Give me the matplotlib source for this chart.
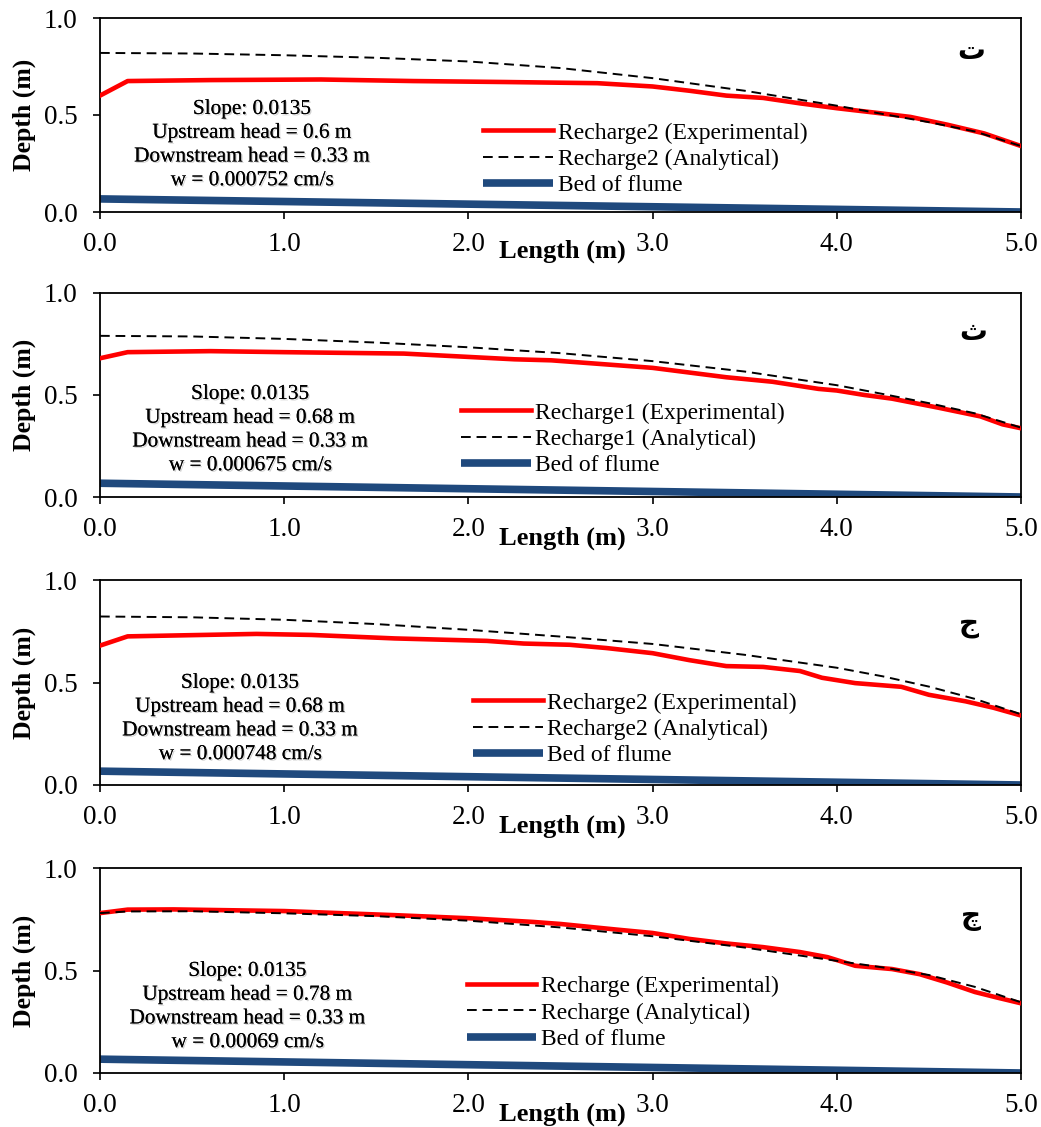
import matplotlib
matplotlib.use('Agg')
import matplotlib.pyplot as plt
import matplotlib.patheffects as pe

plt.rcParams['font.family'] = ['Liberation Serif', 'DejaVu Sans']

# ---- data ----
x_bed = [0.0, 5.0]
y_bed = [0.0675, 0.0]

x_ana = [0, 0.5, 1.0, 1.5, 2.0, 2.5, 3.0, 3.5, 4.0, 4.25, 4.5, 4.75, 5.0]

# panel 1 (Recharge2, upstream 0.6 m)
x1_exp = [0, 0.15, 0.6, 1.2, 1.7, 2.2, 2.7, 3.0, 3.2, 3.4, 3.6, 3.8, 4.0, 4.2, 4.4, 4.6, 4.8, 5.0]
y1_exp = [0.60, 0.675, 0.68, 0.683, 0.675, 0.67, 0.664, 0.647, 0.625, 0.60, 0.588, 0.56, 0.535, 0.513, 0.49, 0.45, 0.405, 0.34]
y1_ana = [0.82, 0.817, 0.808, 0.795, 0.776, 0.742, 0.69, 0.625, 0.548, 0.505, 0.463, 0.415, 0.34]

# panel 2 (Recharge1, upstream 0.68 m)
x2_exp = [0, 0.15, 0.6, 1.0, 1.65, 2.25, 2.45, 3.0, 3.2, 3.4, 3.65, 3.9, 4.0, 4.15, 4.3, 4.55, 4.78, 4.9, 5.0]
y2_exp = [0.68, 0.71, 0.715, 0.71, 0.703, 0.675, 0.67, 0.633, 0.61, 0.587, 0.565, 0.53, 0.522, 0.5, 0.482, 0.438, 0.395, 0.356, 0.337]
y2_ana = [0.79, 0.787, 0.775, 0.757, 0.734, 0.705, 0.666, 0.615, 0.548, 0.505, 0.46, 0.41, 0.34]

# panel 3 (Recharge2, upstream 0.68 m)
x3_exp = [0, 0.15, 0.85, 1.15, 1.6, 2.1, 2.3, 2.55, 2.75, 3.0, 3.2, 3.4, 3.6, 3.8, 3.92, 4.1, 4.35, 4.5, 4.7, 4.85, 5.0]
y3_exp = [0.68, 0.725, 0.737, 0.732, 0.715, 0.703, 0.69, 0.684, 0.668, 0.643, 0.609, 0.58, 0.576, 0.556, 0.523, 0.497, 0.479, 0.44, 0.408, 0.377, 0.339]
y3_ana = [0.822, 0.818, 0.806, 0.785, 0.757, 0.724, 0.688, 0.635, 0.572, 0.53, 0.48, 0.42, 0.345]

# panel 4 (Recharge, upstream 0.78 m)
x4_exp = [0, 0.15, 0.4, 1.0, 1.6, 2.0, 2.35, 2.5, 2.8, 3.0, 3.2, 3.4, 3.6, 3.8, 3.95, 4.1, 4.3, 4.45, 4.6, 4.75, 4.87, 5.0]
y4_exp = [0.78, 0.797, 0.798, 0.79, 0.77, 0.755, 0.737, 0.727, 0.7, 0.683, 0.654, 0.632, 0.614, 0.59, 0.565, 0.523, 0.507, 0.482, 0.441, 0.395, 0.368, 0.34]
x4_ana = [0, 0.15, 0.5, 1.0, 1.5, 2.0, 2.5, 3.0, 3.5, 4.0, 4.25, 4.5, 4.75, 5.0]
y4_ana = [0.78, 0.788, 0.789, 0.779, 0.765, 0.743, 0.71, 0.667, 0.612, 0.547, 0.515, 0.478, 0.42, 0.345]

exp_labels = ['Recharge2 (Experimental)', 'Recharge1 (Experimental)',
              'Recharge2 (Experimental)', 'Recharge (Experimental)']
ana_labels = ['Recharge2 (Analytical)', 'Recharge1 (Analytical)',
              'Recharge2 (Analytical)', 'Recharge (Analytical)']
info_texts = ['Slope: 0.0135\nUpstream head = 0.6 m\nDownstream head = 0.33 m\nw = 0.000752 cm/s',
              'Slope: 0.0135\nUpstream head = 0.68 m\nDownstream head = 0.33 m\nw = 0.000675 cm/s',
              'Slope: 0.0135\nUpstream head = 0.68 m\nDownstream head = 0.33 m\nw = 0.000748 cm/s',
              'Slope: 0.0135\nUpstream head = 0.78 m\nDownstream head = 0.33 m\nw = 0.00069 cm/s']
letters = ['ت', 'ث', 'ج', 'چ']

exp_x = [x1_exp, x2_exp, x3_exp, x4_exp]
exp_y = [y1_exp, y2_exp, y3_exp, y4_exp]
ana_x = [x_ana, x_ana, x_ana, x4_ana]
ana_y = [y1_ana, y2_ana, y3_ana, y4_ana]

# ---- layout ----
W, H = 1041, 1127
boxes = [(18, 212), (293, 497), (580, 785), (868, 1073)]
info_pos = [(0.825, 0.345), (0.815, 0.328), (0.76, 0.322), (0.80, 0.322)]
letter_pos = [(4.73, 0.82), (4.74, 0.80), (4.72, 0.78), (4.73, 0.756)]
legend_pos = [(0.416, 0.273), (0.392, 0.284), (0.405, 0.273), (0.398, 0.293)]

blue = '#1f497d'

fig = plt.figure(figsize=(W / 100, H / 100), dpi=100)

for i in range(4):
    top, bot = boxes[i]
    ax = fig.add_axes([100 / W, 1 - bot / H, 921 / W, (bot - top) / H])

    l_exp, = ax.plot(exp_x[i], exp_y[i], color='red', lw=3.3, solid_joinstyle='round', zorder=3)
    l_ana, = ax.plot(ana_x[i], ana_y[i], color='black', lw=1.4, ls=(0, (5, 3)), zorder=4)
    l_bed, = ax.plot(x_bed, y_bed, color=blue, lw=5.5, solid_capstyle='butt', zorder=2)

    ax.set_xlim(0, 5)
    ax.set_ylim(0, 1)
    ax.set_xticks([0, 1, 2, 3, 4, 5])
    ax.set_xticklabels(['0.0', '1.0', '2.0', '3.0', '4.0', '5.0'])
    ax.set_yticks([0, 0.5, 1.0])
    ax.set_yticklabels(['0.0', '0.5', '1.0'])
    ax.tick_params(direction='out', length=5, width=1.2, labelsize=19.5)
    ax.tick_params(axis='x', pad=9.5)
    ax.tick_params(axis='y', pad=11)
    for s in ax.spines.values():
        s.set_linewidth(1.3)

    ax.set_ylabel('Depth (m)', fontsize=18.5, fontweight='bold')
    ax.yaxis.set_label_coords(-0.082, 0.5)
    ax.yaxis.label.set_va('center')
    ax.set_xlabel('Length (m)', fontsize=19, fontweight='bold')
    ax.xaxis.set_label_coords(0.5016, -0.2)
    ax.xaxis.label.set_va('center')

    t = ax.text(info_pos[i][0], info_pos[i][1], info_texts[i], ha='center', va='center',
                fontsize=15.3, linespacing=1.34)
    t.set_path_effects([pe.withSimplePatchShadow(offset=(1, -1), shadow_rgbFace='gray', alpha=0.35),
                        pe.Normal()])

    ax.text(letter_pos[i][0], letter_pos[i][1], letters[i], ha='center', va='center',
            fontsize=20, fontweight='bold', family=['Liberation Serif', 'DejaVu Sans'])

    ax.legend([l_exp, l_ana, l_bed], [exp_labels[i], ana_labels[i], 'Bed of flume'],
              loc='center left', bbox_to_anchor=legend_pos[i], frameon=False,
              fontsize=17, handlelength=2.95, handletextpad=0.2, labelspacing=0.2,
              borderpad=0, borderaxespad=0)

fig.savefig('out.png', dpi=100)
